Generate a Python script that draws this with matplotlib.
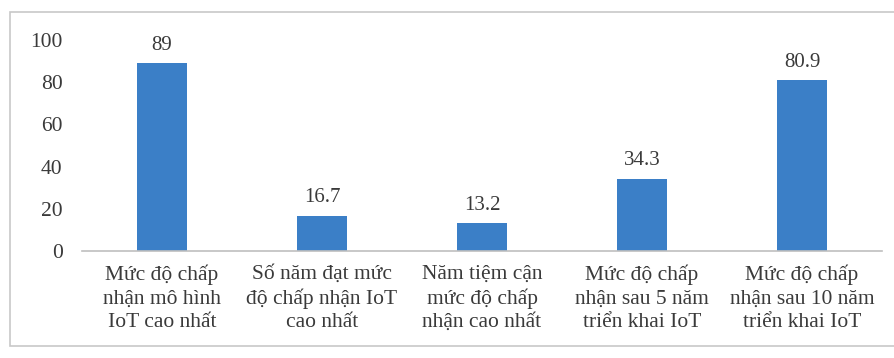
import matplotlib.pyplot as plt
from matplotlib.patches import Rectangle

plt.rcParams['font.family'] = ['Liberation Serif', 'DejaVu Serif']

categories = [
    'Mức độ chấp\nnhận mô hình\nIoT cao nhất',
    'Số năm đạt mức\nđộ chấp nhận IoT\ncao nhất',
    'Năm tiệm cận\nmức độ chấp\nnhận cao nhất',
    'Mức độ chấp\nnhận sau 5 năm\ntriển khai IoT',
    'Mức độ chấp\nnhận sau 10 năm\ntriển khai IoT',
]
values = [89, 16.7, 13.2, 34.3, 80.9]
value_labels = ['89', '16.7', '13.2', '34.3', '80.9']
yticks = [0, 20, 40, 60, 80, 100]

text_color = '#3a3a3a'

fig = plt.figure(figsize=(8.94, 3.58), dpi=100)
ax = fig.add_axes([0.0917, 0.299, 0.895, 0.589])

x = range(len(values))
bars = ax.bar(x, values, width=0.31, color='#3b7fc7')

for b, lab in zip(bars, value_labels):
    ax.annotate(lab, (b.get_x() + b.get_width() / 2, b.get_height()),
                xytext=(0, 6), textcoords='offset points',
                ha='center', va='bottom', fontsize=15, color=text_color)

ax.set_xlim(-0.5, len(values) - 0.5)
ax.set_ylim(0, 100)
ax.set_yticks(yticks)
ax.set_xticks(list(x))
ax.set_xticklabels(categories, fontsize=15.5, color=text_color,
                   linespacing=1.3)
ax.tick_params(axis='both', length=0, colors=text_color)
ax.tick_params(axis='y', labelsize=15.5, pad=14)
ax.tick_params(axis='x', pad=10)

for s in ['top', 'right', 'left']:
    ax.spines[s].set_visible(False)
ax.spines['bottom'].set_color('#bfbfbf')
ax.spines['bottom'].set_linewidth(1.2)

# outer frame of the chart area
fig.patches.append(Rectangle((0.011, 0.034), 0.99, 0.933,
                             transform=fig.transFigure, fill=False,
                             edgecolor='#c8c8c8', linewidth=1.2))

fig.savefig('out.png', dpi=100)
